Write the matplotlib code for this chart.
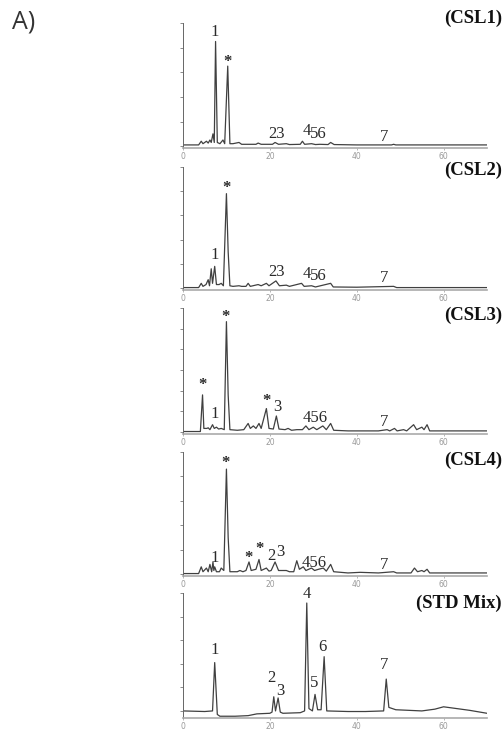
import numpy as np
import matplotlib
matplotlib.use("Agg")
import matplotlib.pyplot as plt

# retention time (min) / relative intensity
csl1_t = [0, 3.6, 4.2, 4.6, 5.4, 5.8, 6.2, 6.5, 6.9, 7.2, 7.5, 7.9, 8.5, 9.2, 9.6, 10.3, 10.8, 11.5, 12.9, 13.5,
          16.8, 17.3, 18, 20.6, 21.2, 22, 23.8, 24.5, 27, 27.5, 28, 29.6, 30.5, 31.5, 33.4, 34, 34.8, 40, 48, 48.5,
          49, 70]
csl1_y = [1, 1, 4, 2, 4, 2.5, 5, 3, 10, 3, 85, 3, 2, 5, 2, 65, 2, 2, 3, 1.5,
          1.5, 2.5, 1.5, 1.5, 3, 1.5, 2, 1.3, 1.5, 4, 1.5, 2, 1.3, 1.5, 1.3, 3, 1.3, 1, 1, 1.5,
          1, 1]

csl2_t = [0, 3.6, 4.2, 4.6, 5.3, 5.8, 6.1, 6.5, 6.8, 7.3, 7.7, 8.3, 8.8, 9.3, 10.0, 10.4, 10.8, 11.5, 12.9, 13.5,
          14.5, 15, 15.5, 17.3, 18, 19.2, 19.8, 21.4, 22.2, 23.8, 24.5, 27.3, 27.9, 29.6, 30.5, 34, 34.6, 40, 48.5,
          49.2, 70]
csl2_y = [0.5, 0.5, 4, 1.5, 3, 7, 2, 16, 4, 18, 3, 3, 4, 2, 78, 30, 2, 1.5, 2, 1.5,
          1.5, 4, 1.5, 3, 2, 4, 2, 6, 2, 2.5, 1.5, 4, 1.5, 2, 1, 4, 1, 0.8, 1.5,
          0.5, 0.5]

csl3_t = [0, 4.0, 4.5, 4.8, 5.5, 5.8, 6.2, 6.8, 7.2, 7.7, 8.2, 8.8, 9.5, 10.0, 10.4, 10.8, 12.5, 14, 15, 15.5,
          16.2, 16.8, 17.5, 18, 19.2, 19.8, 20.8, 21.5, 22.1, 23.5, 24.2, 25, 26.2, 27.5, 28.3, 29, 30, 30.8, 32.2,
          33, 34, 34.7, 38, 40.8, 45, 47, 47.6, 48.7, 49.3, 50.8, 51.5, 53.1, 53.8, 55, 55.5, 56.2, 56.8, 60, 70]
csl3_y = [0.5, 0.5, 30, 3, 3, 3.5, 2, 6, 3, 4, 2.5, 3, 2, 89, 30, 2, 1.5, 2, 7, 3,
          5, 3, 7, 3, 19, 3, 2.5, 13, 2.5, 2, 3, 1.5, 2, 2, 5, 2, 4, 2, 5,
          2, 7, 1.5, 1, 1, 1, 2, 1, 3, 1, 2, 1, 6, 2, 4, 2, 6, 1, 1, 1]

csl4_t = [0, 3.6, 4.2, 4.6, 5.4, 5.8, 6.2, 6.6, 6.9, 7.1, 7.3, 7.7, 8.4, 8.8, 9.4, 10.0, 10.4, 10.8, 12.5, 13.1,
          13.8, 14.5, 15.2, 15.7, 16.8, 17.5, 18, 19.2, 19.8, 20.3, 21.2, 22, 23.8, 24.5, 25.5, 26.2, 26.8, 27.7,
          28.3, 29.6, 30.3, 31.2, 32.3, 33, 34, 34.7, 38, 40.8, 45, 48.5, 49.2, 52.5, 53.3, 54, 55, 55.5, 56.2, 56.8,
          60, 70]
csl4_y = [0.5, 0.5, 6, 2, 5, 2, 8, 2, 10, 3, 6, 2, 2, 5, 3, 86, 30, 2, 2, 3,
          2, 3, 10, 3, 4, 12, 3, 5, 2.5, 3, 10, 3, 3, 2, 2, 11, 4, 6,
          3, 5, 3, 4, 5, 2.5, 8, 2, 1, 1.5, 1, 2, 1, 1, 5, 2, 3, 2, 4, 1,
          1, 1]

std_t = [0, 5, 6.8, 7.3, 7.9, 8.5, 12, 15, 17, 20, 20.5, 20.9, 21.3, 21.9, 22.4, 23, 27, 28, 28.5, 29,
         29.8, 30.4, 31, 31.8, 32.5, 33.1, 38, 42, 46.2, 46.8, 47.4, 49, 55, 58, 60, 63, 66, 70]
std_y = [0, -0.5, 0, 41, -3, -4.5, -4.5, -4, -2.5, -2, -1, 12, 0, 11, -1, -2, -1.5, 0, 91.5, 2,
         0, 14, 1, 1, 46, 0, -0.5, -0.5, 0, 27, 3, 1, 0, 1.5, 3.5, 2, 0.5, -2]

# peak annotations: text, time, intensity
csl1_lab = [("1", 7.3, 93), ("*", 10.2, 68), ("23", 21.5, 10), ("4", 28.4, 12), ("56", 31.2, 9.5), ("7", 46.3, 7.5)]
csl2_lab = [("1", 7.2, 27), ("*", 10.0, 83), ("23", 21.5, 13), ("4", 28.4, 12), ("56", 31.2, 10), ("7", 46.3, 8)]
csl3_lab = [("*", 4.5, 38), ("1", 7.2, 15), ("*", 9.8, 93), ("*", 19.2, 25), ("3", 21.7, 20),
            ("456", 30.4, 11), ("7", 46.3, 8)]
csl4_lab = [("*", 9.8, 91), ("1", 7.3, 13), ("*", 15.0, 13.5), ("*", 17.5, 21), ("2", 20.4, 15),
            ("3", 22.3, 18), ("456", 30.2, 9.5), ("7", 46.3, 7.5)]
std_lab = [("1", 7.2, 52), ("2", 20.4, 28), ("3", 22.5, 17), ("4", 28.5, 99), ("5", 30.2, 24),
           ("6", 32.2, 54), ("7", 46.3, 39)]

names = ["(CSL1)", "(CSL2)", "(CSL3)", "(CSL4)", "(STD Mix)"]
traces = [(csl1_t, csl1_y), (csl2_t, csl2_y), (csl3_t, csl3_y), (csl4_t, csl4_y), (std_t, std_y)]
labels = [csl1_lab, csl2_lab, csl3_lab, csl4_lab, std_lab]
xticks = [0, 20, 40, 60]

W, H = 504, 730
fig = plt.figure(figsize=(W / 100, H / 100), dpi=100)

# panel layout in pixels: (top, bottom, y-min, number of y intervals, name label y)
layout = [(23, 148, -1.5, 5, 18), (167, 290, -1.5, 5, 170), (308, 434, -1.5, 6, 315),
          (452, 576, -1.5, 5, 460), (593, 718, -6, 5, 603)]
left, right = 183, 487

serif = ["Liberation Serif", "DejaVu Serif"]
for (t, y), labs, name, (top, bot, ymin, nint, ny) in zip(traces, labels, names, layout):
    ax = fig.add_axes([left / W, 1 - bot / H, (right - left) / W, (bot - top) / H])
    ax.plot(t, y, color="#404040", lw=0.9)
    ax.set_xlim(0, 70)
    ax.set_ylim(ymin, 100)
    ax.set_yticks(np.linspace(0, 100, nint + 1))
    ax.set_yticklabels([])
    ax.set_xticks(xticks)
    ax.set_xticklabels([str(v) for v in xticks], fontsize=5.5, color="#999999")
    ax.tick_params(axis="y", length=2, width=0.6, colors="#777777")
    ax.tick_params(axis="x", length=1.5, width=0.5, colors="#999999", pad=1.5)
    for s in ["top", "right"]:
        ax.spines[s].set_visible(False)
    ax.spines["left"].set_color("#666666")
    ax.spines["left"].set_linewidth(0.7)
    ax.spines["bottom"].set_color("#aaaaaa")
    ax.spines["bottom"].set_linewidth(1.2)
    for txt, lx, ly in labs:
        ax.text(lx, ly, txt, ha="center", va="center", fontsize=12, color="#2a2a2a",
                family=serif, clip_on=False, fontweight="bold" if txt == "*" else "normal")
    fig.text(502 / W, 1 - ny / H, name, ha="right", va="center", fontsize=13.5,
             fontweight="bold", family=serif, color="#111111")

fig.text(12 / W, 1 - 22 / H, "A)", ha="left", va="center", fontsize=18,
         family=["Open Sans", "DejaVu Sans"], color="#333333")

fig.savefig("out.png", dpi=100, facecolor="white")
